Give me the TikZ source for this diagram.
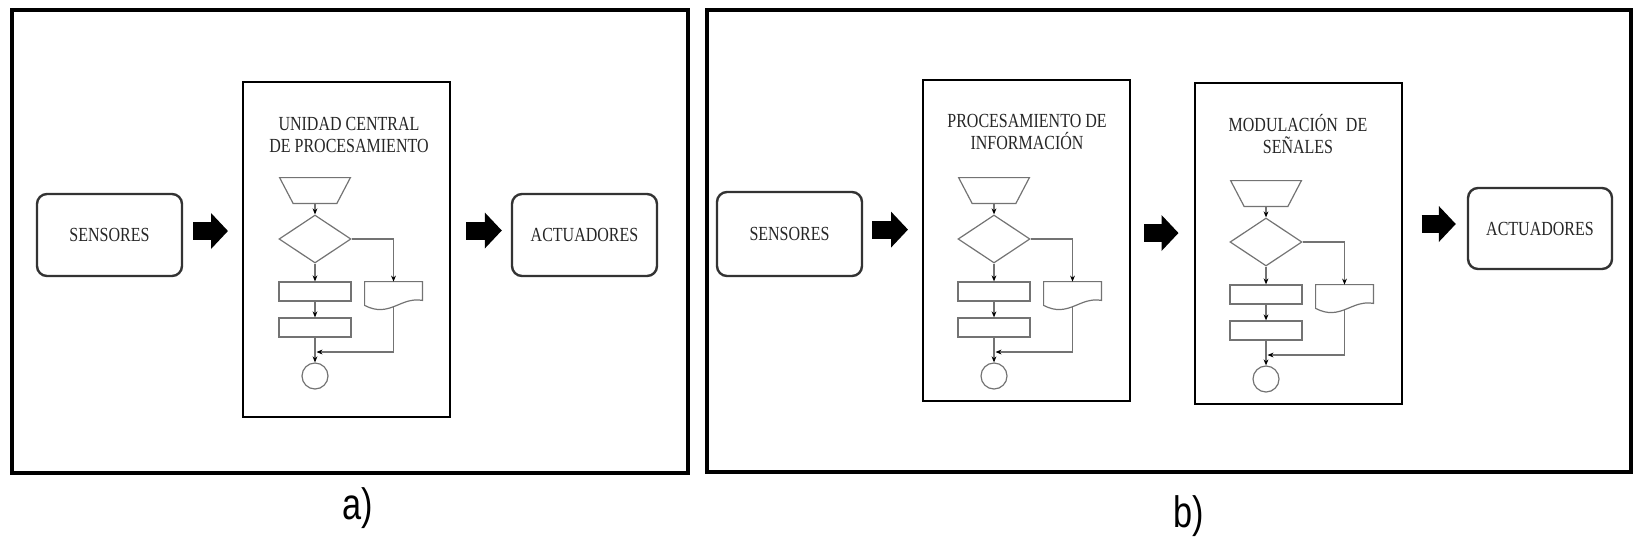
\documentclass[tikz,border=0pt]{standalone}
\usepackage{fontspec}
\usetikzlibrary{shapes.geometric,arrows.meta}
\newfontfamily\cajafont[FakeStretch=0.8]{Liberation Serif}
\newfontfamily\etiqfont[FakeStretch=0.78]{Liberation Sans}

\tikzset{
  marco/.style={line width=2pt},
  caja/.style={draw=black!80, line width=1.2pt, rounded corners=5pt,
    font=\cajafont\fontsize{10}{12}\selectfont, text=black!85},
  bloque/.style={draw, line width=1pt, minimum width=103.5pt},
  titulo/.style={align=center, font=\cajafont\fontsize{10}{10.8}\selectfont, text=black!85},
  flecha/.style={draw=black!55, line width=0.6pt, -{Stealth[length=3pt,width=2.4pt,black]}},
  linea/.style={draw=black!55, line width=0.6pt},
  gruesa/.style={line width=9pt, -{Triangle[length=8.5pt,width=17.5pt]}},
  trap/.style={rectangle, minimum width=35pt, minimum height=12.5pt, inner sep=0pt},
  rombo/.style={diamond, minimum width=36pt, minimum height=24pt, inner sep=1pt, linea},
  paso/.style={rectangle, minimum width=36pt, minimum height=9.5pt, inner sep=0pt, linea},
  hoja/.style={rectangle, minimum width=28.5pt, minimum height=9pt, inner sep=0pt},
  fin/.style={circle, minimum size=13pt, inner sep=0pt, linea},
  flujo/.pic={
    \node[trap] (-ent) at (0,-48.5) {};
    \node[rombo] (-dec) at (0,0) {};
    \node[paso] (-p1) at (0,52.5) {};
    \node[paso] (-p2) at (0,88.5) {};
    \node[hoja] (-doc) at (78.5,52) {};
    \node[fin] (-fin) at (0,137) {};
    \coordinate (-union) at (1.5,113);
    \draw[linea] (-ent.north west) -- (-ent.north east)
      -- ([xshift=-6.75pt]-ent.south east) -- ([xshift=6.75pt]-ent.south west) -- cycle;
    \draw[linea] (-doc.north west) -- (-doc.north east) -- (-doc.south east)
      .. controls +(-22,-4) and +(25,13) .. ([yshift=-2.5pt]-doc.south west) -- cycle;
    \draw[flecha] (-ent) -- (-dec);
    \draw[flecha] (-dec) -- (-p1);
    \draw[flecha] (-p1) -- (-p2);
    \draw[flecha] (-dec.east) -| (-doc.north);
    \draw[flecha] (-p2) -- (-fin);
    \draw[flecha] ([yshift=-3pt]-doc.south) |- (-union);
  }
}

\begin{document}
\begin{tikzpicture}[x=0.5pt, y=-0.5pt]
  \useasboundingbox (0,0) rectangle (1641,547);

  % a)
  \draw[marco] (12,10) rectangle (688,473);
  \node[caja, minimum width=72.5pt, minimum height=41pt] (sensA) at (109.5,235) {SENSORES};
  \node[bloque, minimum height=167.5pt] (cpu) at (346.5,249.5) {};
  \node[titulo] (tituloA) at (349,135) {UNIDAD CENTRAL\\DE PROCESAMIENTO};
  \pic (fa) at (315,239) {flujo};
  \node[caja, minimum width=72.5pt, minimum height=41pt] (actA) at (584.5,235) {ACTUADORES};
  \coordinate (a1) at ([yshift=2pt]sensA.east);
  \coordinate (a2) at ([yshift=2.25pt]actA.west);
  \draw[gruesa, shorten <=5pt, shorten >=7pt] (a1) -- (a1 -| cpu.west);
  \draw[gruesa, shorten <=7.5pt, shorten >=4.5pt] (a2 -| cpu.east) -- (a2);
  \node[font=\etiqfont\fontsize{22}{22}\selectfont] (etiqA) at (358,508) {a)};

  % b)
  \draw[marco] (707,10) rectangle (1631,472);
  \node[caja, minimum width=72.5pt, minimum height=42pt] (sensB) at (789.5,234) {SENSORES};
  \node[bloque, minimum height=160.5pt] (proc) at (1026.5,240.5) {};
  \node[titulo] (tituloB) at (1027,132) {PROCESAMIENTO DE\\INFORMACIÓN};
  \pic (fb) at (994,239) {flujo};
  \node[bloque, minimum height=160.5pt] (mod) at (1298,243.5) {};
  \node[titulo] (tituloC) at (1298,134) {MODULACIÓN\ \ DE\\SEÑALES};
  \pic (fc) at (1266,242) {flujo};
  \node[caja, minimum width=72pt, minimum height=40.5pt] (actB) at (1540,228.5) {ACTUADORES};
  \coordinate (b1) at ([yshift=2.2pt]sensB.east);
  \coordinate (b2) at ([yshift=3.75pt]proc.east);
  \coordinate (b3) at ([yshift=2.25pt]actB.west);
  \draw[gruesa, shorten <=4.5pt, shorten >=7pt] (b1) -- (b1 -| proc.west);
  \draw[gruesa, shorten <=6.5pt, shorten >=7.5pt] (b2) -- (b2 -| mod.west);
  \draw[gruesa, shorten <=9.5pt, shorten >=5.5pt] (b3 -| mod.east) -- (b3);
  \node[font=\etiqfont\fontsize{22}{22}\selectfont] (etiqB) at (1189,516) {b)};
\end{tikzpicture}
\end{document}
